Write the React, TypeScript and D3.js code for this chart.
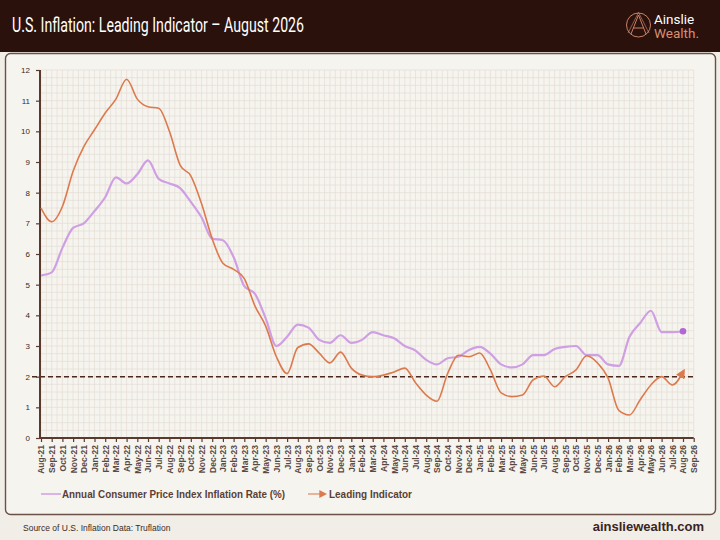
import React, { useEffect, useRef } from "react";
import * as d3 from "d3";

// month labels along the x axis (Aug-21 .. Sep-26)
const months: string[] = [
	"Aug-21", "Sep-21", "Oct-21", "Nov-21", "Dec-21",
	"Jan-22", "Feb-22", "Mar-22", "Apr-22", "May-22", "Jun-22", "Jul-22", "Aug-22", "Sep-22", "Oct-22", "Nov-22", "Dec-22",
	"Jan-23", "Feb-23", "Mar-23", "Apr-23", "May-23", "Jun-23", "Jul-23", "Aug-23", "Sep-23", "Oct-23", "Nov-23", "Dec-23",
	"Jan-24", "Feb-24", "Mar-24", "Apr-24", "May-24", "Jun-24", "Jul-24", "Aug-24", "Sep-24", "Oct-24", "Nov-24", "Dec-24",
	"Jan-25", "Feb-25", "Mar-25", "Apr-25", "May-25", "Jun-25", "Jul-25", "Aug-25", "Sep-25", "Oct-25", "Nov-25", "Dec-25",
	"Jan-26", "Feb-26", "Mar-26", "Apr-26", "May-26", "Jun-26", "Jul-26", "Aug-26", "Sep-26",
];

// Annual CPI inflation rate (%), Aug-21 .. Aug-26
const cpi: number[] = [
	5.3, 5.4, 6.2, 6.85, 7.0,
	7.4, 7.85, 8.5, 8.3, 8.6, 9.05, 8.45, 8.3, 8.15, 7.7, 7.2, 6.5,
	6.45, 5.9, 4.95, 4.7, 3.9, 3.0, 3.3, 3.7, 3.6, 3.2, 3.1, 3.35,
	3.1, 3.2, 3.45, 3.35, 3.25, 3.0, 2.85, 2.55, 2.4, 2.6, 2.65, 2.87,
	2.97, 2.75, 2.4, 2.3, 2.4, 2.7, 2.7, 2.9, 2.97, 3.0, 2.7, 2.7,
	2.4, 2.35, 3.3, 3.75, 4.15, 3.45, 3.45, 3.48,
];

// Leading indicator, Aug-21 .. Aug-26
const leading: number[] = [
	7.5, 7.05, 7.55, 8.7, 9.5,
	10.05, 10.6, 11.05, 11.7, 11.05, 10.8, 10.75, 10.0, 8.9, 8.55, 7.65, 6.5,
	5.7, 5.5, 5.2, 4.3, 3.65, 2.65, 2.1, 2.95, 3.07, 2.77, 2.45, 2.8,
	2.28, 2.05, 2.0, 2.05, 2.15, 2.28, 1.8, 1.4, 1.2, 2.1, 2.7, 2.65,
	2.77, 2.22, 1.47, 1.35, 1.4, 1.9, 2.02, 1.67, 2.0, 2.22, 2.68, 2.45,
	1.95, 0.9, 0.75, 1.25, 1.73, 2.0, 1.73, 2.15,
];

const yTicks: number[] = [0, 1, 2, 3, 4, 5, 6, 7, 8, 9, 10, 11, 12];
const target = 2;

const W = 720;
const H = 540;

const App: React.FC = () => {
	const svgRef = useRef<SVGSVGElement | null>(null);

	useEffect(() => {
		document.body.style.margin = "0";
		const svg = d3.select(svgRef.current);
		svg.selectAll("*").remove();

		const x = d3.scalePoint<string>().domain(months).range([41, 693.7]);
		const y = d3.scaleLinear().domain([0, 12]).range([438, 70]);
		const step = x.step();

		// page + header
		svg.append("rect").attr("width", W).attr("height", H).attr("fill", "#f1eee8");
		svg.append("rect").attr("width", W).attr("height", 52).attr("fill", "#2a110c");

		svg.append("text")
			.attr("x", 12)
			.attr("y", 32)
			.attr("fill", "#ffffff")
			.attr("font-family", "Roboto, sans-serif")
			.attr("font-size", 21)
			.attr("textLength", 292)
			.attr("lengthAdjust", "spacingAndGlyphs")
			.text("U.S. Inflation: Leading Indicator \u2013 August 2026");

		// logo
		const logo = svg.append("g").attr("fill", "none").attr("stroke", "#d98f73").attr("stroke-width", 0.9);
		logo.append("circle").attr("cx", 638.5).attr("cy", 25).attr("r", 12);
		logo.append("path").attr("d", "M631,34 L638.5,15 L646,34 M633.5,28 L643.5,28");
		logo.append("path").attr("d", "M628,33 L638.5,12.5 L649,33").attr("stroke-width", 0.6);
		svg.append("text")
			.attr("x", 654).attr("y", 23.5)
			.attr("fill", "#ffffff")
			.attr("font-family", "Roboto, sans-serif")
			.attr("font-size", 13.5)
			.text("Ainslie");
		svg.append("text")
			.attr("x", 654).attr("y", 38)
			.attr("fill", "#d98f73")
			.attr("font-family", "Roboto, sans-serif")
			.attr("font-size", 13.5)
			.text("Wealth.");

		// panel
		svg.append("rect")
			.attr("x", 5.5).attr("y", 53.5)
			.attr("width", 710).attr("height", 461)
			.attr("rx", 5)
			.attr("fill", "#f6f4ef")
			.attr("stroke", "#6b5048")
			.attr("stroke-width", 1.4);

		// grid
		const grid = svg.append("g").attr("stroke", "#e4ddd4").attr("stroke-width", 0.7);
		const x0 = x(months[0]) as number;
		const x1 = x(months[months.length - 1]) as number;
		for (let i = 0; i <= (months.length - 1) * 2; i++) {
			const gx = x0 + (i * step) / 2;
			grid.append("line").attr("x1", gx).attr("x2", gx).attr("y1", y(12)).attr("y2", y(0));
		}
		for (let v = 0; v <= 12; v += 0.25) {
			grid.append("line").attr("x1", x0).attr("x2", x1).attr("y1", y(v)).attr("y2", y(v));
		}

		// target line
		svg.append("line")
			.attr("x1", 32).attr("x2", x1)
			.attr("y1", y(target)).attr("y2", y(target))
			.attr("stroke", "#4a2a20")
			.attr("stroke-width", 1.5)
			.attr("stroke-dasharray", "5,3");

		// axes
		const yAxis = svg.append("g")
			.attr("transform", `translate(${x0 - 1},0)`)
			.call(d3.axisLeft(y).tickValues(yTicks).tickSize(4).tickFormat(d3.format("d")));
		yAxis.select(".domain").attr("stroke", "#5a3a2e").attr("stroke-width", 2).attr("d", `M0,${y(12)}H0V${y(0)}`);
		yAxis.selectAll(".tick line").attr("stroke", "#5a3a2e").attr("stroke-width", 1.2);
		yAxis.selectAll(".tick text")
			.attr("x", -10)
			.attr("fill", "#3a2a25")
			.attr("font-family", "Liberation Sans, Arial, sans-serif")
			.attr("font-size", 8);

		const xAxis = svg.append("g")
			.attr("transform", `translate(0,${y(0)})`)
			.call(d3.axisBottom(x).tickSize(4).tickSizeOuter(0));
		xAxis.select(".domain").attr("stroke", "#5a3a2e").attr("stroke-width", 2).attr("d", `M${x0 - 2},0H${x1}`);
		xAxis.selectAll(".tick line").attr("stroke", "#5a3a2e").attr("stroke-width", 1.2);
		xAxis.selectAll(".tick text")
			.attr("transform", "rotate(-90)")
			.attr("x", -7)
			.attr("y", 0)
			.attr("dy", "0.35em")
			.attr("text-anchor", "end")
			.attr("fill", "#5a4a44")
			.attr("font-family", "Liberation Sans, Arial, sans-serif")
			.attr("font-weight", "bold")
			.attr("font-size", 8.5);

		// arrow marker
		const defs = svg.append("defs");
		defs.append("marker")
			.attr("id", "arrow")
			.attr("viewBox", "0 0 10 10")
			.attr("refX", 6)
			.attr("refY", 5)
			.attr("markerWidth", 6)
			.attr("markerHeight", 6)
			.attr("orient", "auto")
			.append("path")
			.attr("d", "M0,0 L10,5 L0,10 z")
			.attr("fill", "#dc7a4e");

		const line = d3.line<number>()
			.x((_, i) => x(months[i]) as number)
			.y((d) => y(d))
			.curve(d3.curveMonotoneX);

		svg.append("path")
			.datum(cpi)
			.attr("d", line)
			.attr("fill", "none")
			.attr("stroke", "#cf9fe4")
			.attr("stroke-width", 2.2);

		svg.append("circle")
			.attr("cx", x(months[cpi.length - 1]) as number)
			.attr("cy", y(cpi[cpi.length - 1]))
			.attr("r", 3.3)
			.attr("fill", "#b466d6");

		svg.append("path")
			.datum(leading)
			.attr("d", line)
			.attr("fill", "none")
			.attr("stroke", "#dc7a4e")
			.attr("stroke-width", 1.6)
			.attr("marker-end", "url(#arrow)");

		// legend
		const legend = svg.append("g")
			.attr("font-family", "Liberation Sans, Arial, sans-serif")
			.attr("font-size", 11)
			.attr("font-weight", "bold")
			.attr("fill", "#5a3f36");
		legend.append("line").attr("x1", 41).attr("x2", 61).attr("y1", 494).attr("y2", 494)
			.attr("stroke", "#cf9fe4").attr("stroke-width", 1.5);
		legend.append("text").attr("x", 62).attr("y", 498)
			.attr("textLength", 223).attr("lengthAdjust", "spacingAndGlyphs")
			.text("Annual Consumer Price Index Inflation Rate (%)");
		legend.append("line").attr("x1", 308).attr("x2", 324).attr("y1", 494).attr("y2", 494)
			.attr("stroke", "#e0906e").attr("stroke-width", 1.3)
			.attr("marker-end", "url(#arrow)");
		legend.append("text").attr("x", 329).attr("y", 498)
			.attr("textLength", 83).attr("lengthAdjust", "spacingAndGlyphs")
			.text("Leading Indicator");

		// footer
		svg.append("text")
			.attr("x", 23).attr("y", 531)
			.attr("fill", "#3a2a25")
			.attr("font-family", "Liberation Sans, Arial, sans-serif")
			.attr("font-size", 8.5)
			.text("Source of U.S. Inflation Data: Truflation");
		svg.append("text")
			.attr("x", 704).attr("y", 531)
			.attr("text-anchor", "end")
			.attr("fill", "#3a2420")
			.attr("font-family", "Liberation Sans, Arial, sans-serif")
			.attr("font-size", 13)
			.attr("font-weight", "bold")
			.text("ainsliewealth.com");
	}, []);

	return (
		<div style={{ position: "absolute", left: 0, top: 0 }}>
			<svg ref={svgRef} width={W} height={H}></svg>
		</div>
	);
};

export default App;
